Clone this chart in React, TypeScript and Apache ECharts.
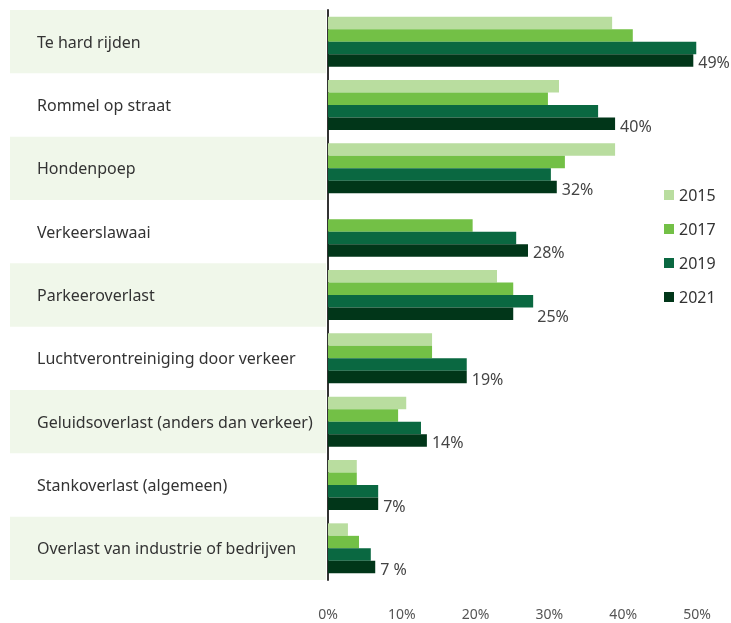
import React, { useEffect, useRef } from "react";
import * as echarts from "echarts";

const categories = [
  "Te hard rijden",
  "Rommel op straat",
  "Hondenpoep",
  "Verkeerslawaai",
  "Parkeeroverlast",
  "Luchtverontreiniging door verkeer",
  "Geluidsoverlast (anders dan verkeer)",
  "Stankoverlast (algemeen)",
  "Overlast van industrie of bedrijven",
];

const years = ["2015", "2017", "2019", "2021"];

const v2015 = [38.5, 31.3, 38.9, null, 22.9, 14.1, 10.6, 3.9, 2.7];
const v2017 = [41.3, 29.8, 32.1, 19.6, 25.1, 14.1, 9.5, 3.9, 4.2];
const v2019 = [49.9, 36.6, 30.2, 25.5, 27.8, 18.8, 12.6, 6.8, 5.8];
const v2021 = [49.5, 38.9, 31.0, 27.1, 25.1, 18.8, 13.4, 6.8, 6.4];

const labels2021 = ["49%", "40%", "32%", "28%", "25%", "19%", "14%", "7%", "7 %"];

const xTicks = [0, 10, 20, 30, 40, 50];

const colors = ["#b9dd9f", "#73c046", "#0a6841", "#013619"];

export default function App() {
  const ref = useRef<HTMLDivElement>(null);

  useEffect(() => {
    if (!ref.current) return;
    const chart = echarts.init(ref.current, undefined, { renderer: "svg" });
    const values = [v2015, v2017, v2019, v2021];
    const font = "'Noto Sans', sans-serif";
    const labelOffsets: Record<number, [number, number]> = { 4: [19, 2] };

    const series: any[] = years.map((y, i) => ({
      name: y,
      type: "bar",
      xAxisIndex: 0,
      yAxisIndex: 0,
      barWidth: 12.5,
      barGap: "0%",
      itemStyle: { color: colors[i] },
      data: values[i].map((v, idx) => {
        if (v === null) return "-";
        if (i === 3) {
          return {
            value: v,
            label: {
              show: true,
              position: "right",
              distance: 5,
              offset: labelOffsets[idx] || [0, 2],
              formatter: labels2021[idx],
              color: "#444",
              fontSize: 16,
              fontFamily: font,
            },
          };
        }
        return v;
      }),
    }));

    series.push({
      type: "bar",
      xAxisIndex: 1,
      yAxisIndex: 1,
      data: [],
      silent: true,
    });

    chart.setOption({
      animation: false,
      color: colors,
      textStyle: { fontFamily: font },
      legend: {
        data: years,
        orient: "vertical",
        left: 659,
        top: 182,
        itemWidth: 10,
        itemHeight: 10,
        itemGap: 18,
        icon: "rect",
        textStyle: { fontSize: 16, color: "#333", fontFamily: font },
      },
      grid: [
        { left: 328, right: 34, top: 10, bottom: 43 },
        { left: 10, width: 316, top: 10, bottom: 43 },
      ],
      xAxis: [
        {
          type: "value",
          gridIndex: 0,
          min: xTicks[0],
          max: xTicks[xTicks.length - 1],
          interval: 10,
          axisLine: { show: false },
          axisTick: { show: false },
          splitLine: { show: false },
          axisLabel: {
            formatter: "{value}%",
            color: "#555",
            fontSize: 14,
            margin: 26,
            fontFamily: font,
          },
        },
        {
          type: "value",
          gridIndex: 1,
          min: 0,
          max: 1,
          show: false,
        },
      ],
      yAxis: [
        {
          type: "category",
          gridIndex: 0,
          data: categories,
          inverse: true,
          axisLine: { show: true, lineStyle: { color: "#333", width: 2 } },
          axisTick: { show: false },
          splitLine: { show: false },
          axisLabel: {
            align: "left",
            margin: 291,
            color: "#333",
            fontSize: 16,
            fontFamily: font,
            padding: [0, 0, 4, 0],
          },
        },
        {
          type: "category",
          gridIndex: 1,
          data: categories,
          inverse: true,
          axisLine: { show: false },
          axisTick: { show: false },
          axisLabel: { show: false },
          splitLine: { show: false },
          splitArea: {
            show: true,
            areaStyle: { color: ["#f0f7ea", "rgba(255,255,255,0)"] },
          },
        },
      ],
      series,
    });

    return () => chart.dispose();
  }, []);

  return (
    <div
      ref={ref}
      style={{ position: "fixed", left: 0, top: 0, width: 731, height: 623 }}
    />
  );
}
